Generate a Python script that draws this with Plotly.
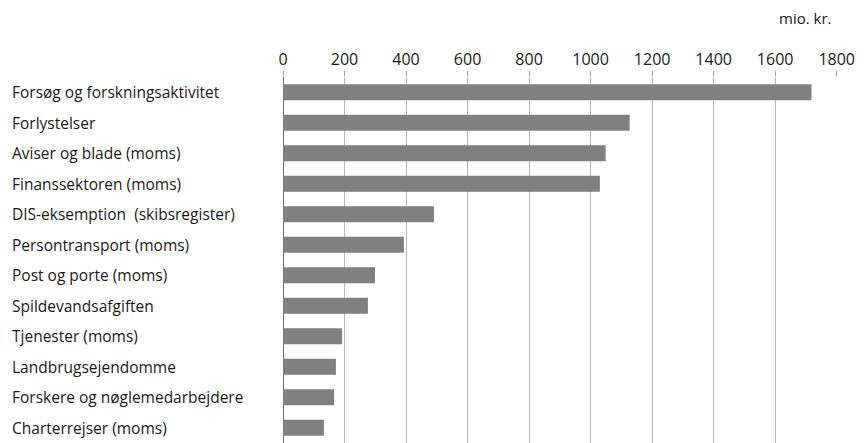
import plotly.graph_objects as go

categories = [
    "Forsøg og forskningsaktivitet",
    "Forlystelser",
    "Aviser og blade (moms)",
    "Finanssektoren (moms)",
    "DIS-eksemption  (skibsregister)",
    "Persontransport (moms)",
    "Post og porte (moms)",
    "Spildevandsafgiften",
    "Tjenester (moms)",
    "Landbrugsejendomme",
    "Forskere og nøglemedarbejdere",
    "Charterrejser (moms)",
]
values = [1718, 1127, 1049, 1030, 491, 393, 299, 276, 192, 172, 166, 133]
tick_vals = [0, 200, 400, 600, 800, 1000, 1200, 1400, 1600, 1800]
unit_label = "mio. kr."

FONT = "Open Sans"
W, H = 868, 443
L, R, T, B = 283, 31, 77, 0
plot_w = W - L - R
plot_h = H - T - B

fig = go.Figure(go.Bar(
    x=values, y=categories, orientation="h",
    marker=dict(color="#808080", line=dict(width=0)),
    hoverinfo="x+y",
))

annotations = []
for c in categories:
    annotations.append(dict(
        x=(10 - L) / plot_w, xref="paper", y=c, yref="y",
        text=c.replace("  ", "&nbsp; "), showarrow=False, xanchor="left", yanchor="middle",
        font=dict(family=FONT, size=15.5, color="#1a1a1a"),
    ))
annotations.append(dict(
    x=(834 - L) / plot_w, xref="paper", y=1 + (T - 18) / plot_h, yref="paper",
    text=unit_label, showarrow=False, xanchor="right", yanchor="middle",
    font=dict(family=FONT, size=15, color="#1a1a1a"),
))

fig.update_layout(
    width=W, height=H,
    margin=dict(l=L, r=R, t=T, b=B, pad=0, autoexpand=False),
    paper_bgcolor="white", plot_bgcolor="white",
    showlegend=False,
    bargap=0.48,
    annotations=annotations,
    xaxis=dict(
        side="top", range=[0, 1801], tickvals=tick_vals, automargin=False,
        ticks="outside", ticklen=5, tickcolor="#a0a0a0",
        showgrid=True, gridcolor="#b8b8b8", gridwidth=1,
        zeroline=True, zerolinecolor="#707070", zerolinewidth=1,
        showline=False,
        tickfont=dict(family=FONT, size=16, color="#1a1a1a"),
    ),
    yaxis=dict(
        autorange="reversed", showticklabels=False, ticks="", automargin=False,
        showgrid=False, zeroline=False, showline=False,
    ),
)

fig.write_html(
    "out.html",
    config={"displayModeBar": False},
    post_script="document.body.style.margin='0';document.body.style.overflow='hidden';",
)
